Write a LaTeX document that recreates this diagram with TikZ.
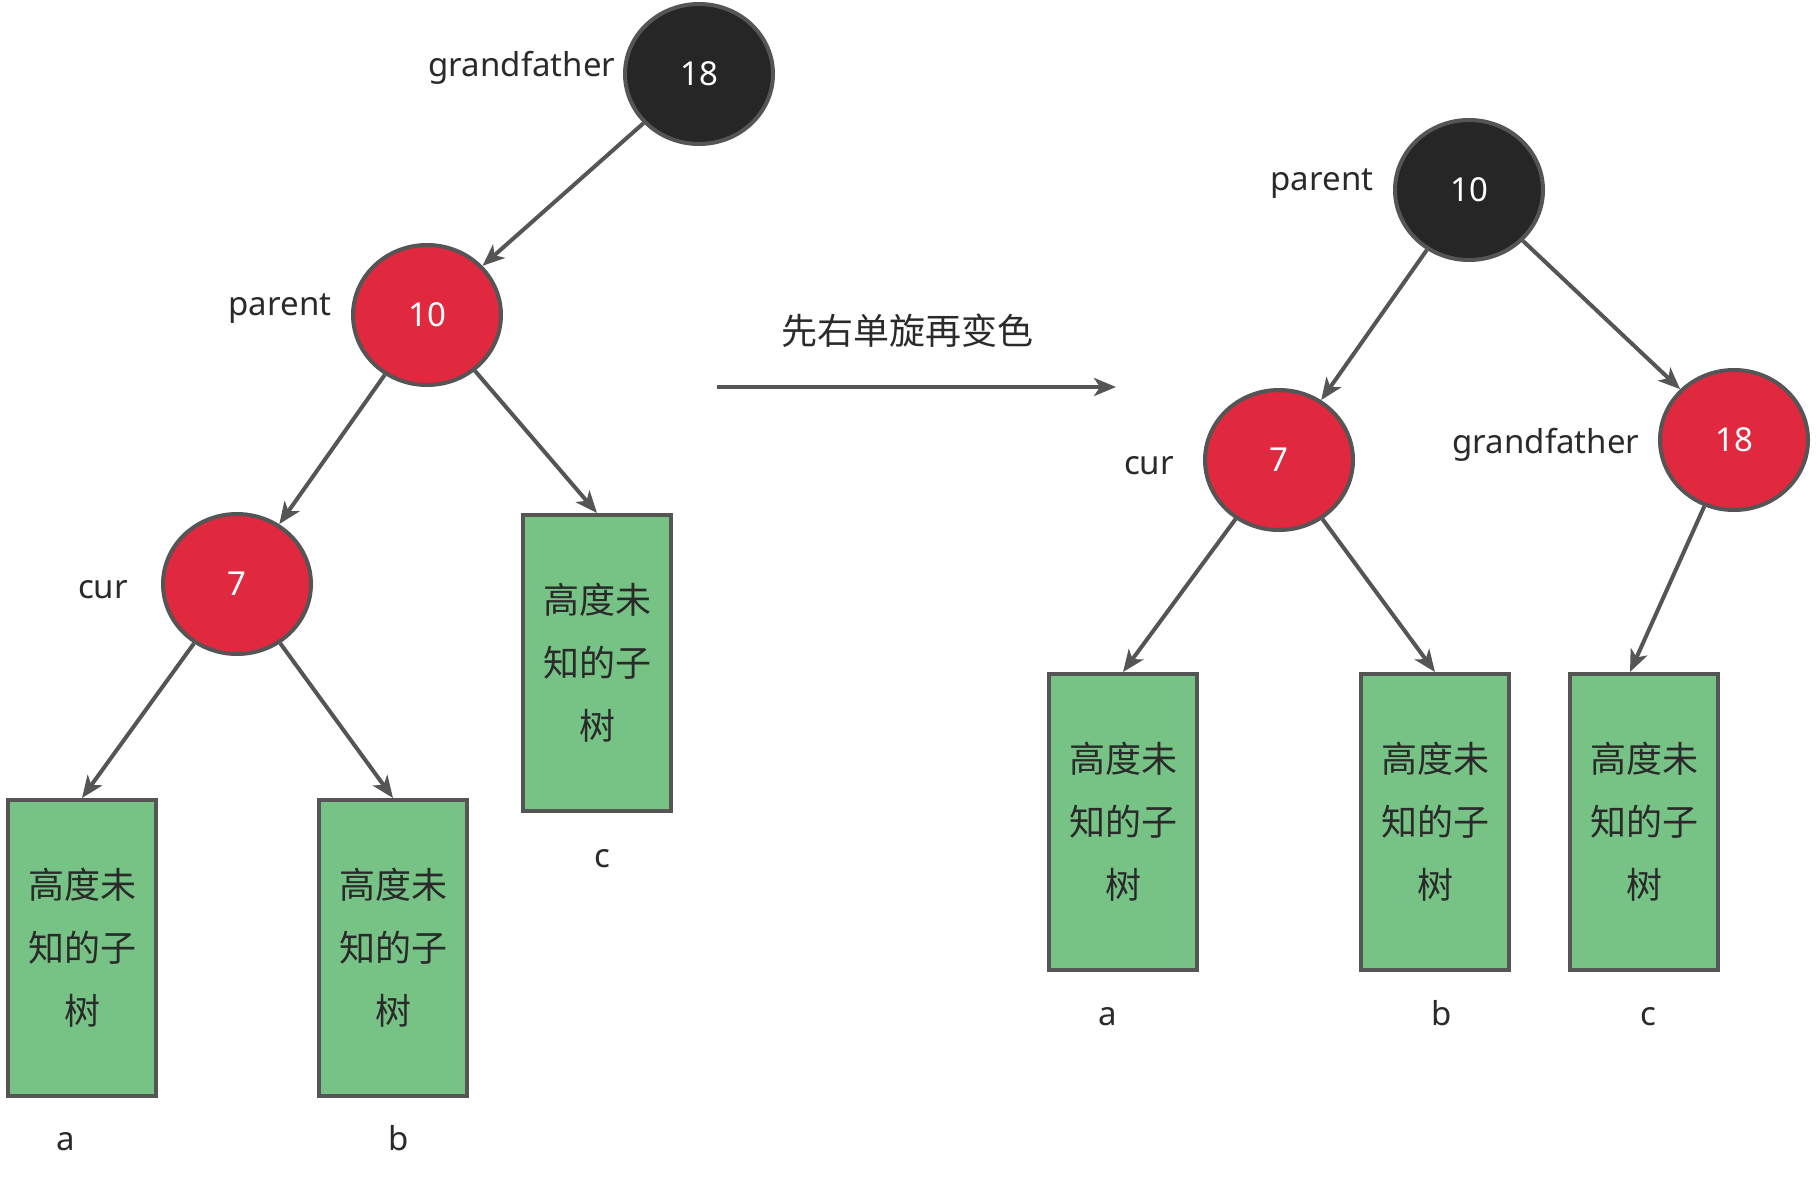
\documentclass[tikz,border=0pt]{standalone}
\usepackage{fontspec}
\setmainfont{Noto Sans}
\newfontfamily\cjk{Noto Sans CJK SC}
\usetikzlibrary{shapes.geometric,arrows.meta}
\definecolor{lineC}{HTML}{555555}
\definecolor{blackF}{HTML}{262626}
\definecolor{redF}{HTML}{E0283E}
\definecolor{greenF}{HTML}{77C386}
\definecolor{txtC}{HTML}{2A2A2A}
\tikzset{
  rbnode/.style={ellipse, draw=lineC, line width=4pt, minimum width=148pt, minimum height=140pt, inner sep=0pt, text=white, font=\fontsize{33}{40}\selectfont},
  blk/.style={rbnode, fill=blackF},
  red/.style={rbnode, fill=redF},
  subtree/.style={rectangle, draw=lineC, line width=4pt, fill=greenF, minimum width=148pt, minimum height=296pt, inner sep=0pt, align=center, text=txtC, font=\cjk\fontsize{36}{63}\selectfont},
  lbl/.style={text=txtC, font=\fontsize{33}{40}\selectfont, inner sep=0pt},
  letter/.style={lbl, anchor=base},
  conn/.style={draw=lineC, line width=4pt, -{Stealth[length=22pt,width=18pt,inset=6pt]}}
}
\begin{document}
\begin{tikzpicture}[x=1pt,y=-1pt]
\useasboundingbox (0,0) rectangle (1820,1181);
% left tree
\node[blk] (L18) at (699,74) {18};
\node[red] (L10) at (427,315) {10};
\node[red] (L7) at (237,584) {7};
\node[subtree] (La) at (82,948) {高度未\\知的子\\树};
\node[subtree] (Lb) at (393,948) {高度未\\知的子\\树};
\node[subtree] (Lc) at (597,663) {高度未\\知的子\\树};
\node[lbl] (Lgf) at (522,68) {grandfather};
\node[lbl] (Lpar) at (280,309) {parent};
\node[lbl] (Lcur) at (103,590) {cur};
\node[letter] (Lla) at (66,1150) {a};
\node[letter] (Llb) at (399,1150) {b};
\node[letter] (Llc) at (602,867) {c};
\draw[conn] (L18) -- (L10);
\draw[conn] (L10) -- (L7);
\draw[conn] (L10) -- (Lc.north);
\draw[conn] (L7) -- (La.north);
\draw[conn] (L7) -- (Lb.north);
% middle arrow
\coordinate (ms) at (717,387);
\coordinate (me) at (1116,387);
\draw[conn] (ms) -- (me);
\node[lbl, font=\cjk\fontsize{36}{40}\selectfont] (title) at (907,331) {先右单旋再变色};
% right tree
\node[blk] (R10) at (1469,190) {10};
\node[red] (R7) at (1279,460) {7};
\node[red] (R18) at (1734,440) {18};
\node[subtree] (Ra) at (1123,822) {高度未\\知的子\\树};
\node[subtree] (Rb) at (1435,822) {高度未\\知的子\\树};
\node[subtree] (Rc) at (1644,822) {高度未\\知的子\\树};
\node[lbl] (Rpar) at (1322,184) {parent};
\node[lbl] (Rcur) at (1149,466) {cur};
\node[lbl] (Rgf) at (1546,445) {grandfather};
\node[letter] (Rla) at (1108,1025) {a};
\node[letter] (Rlb) at (1442,1025) {b};
\node[letter] (Rlc) at (1648,1025) {c};
\draw[conn] (R10) -- (R7);
\draw[conn] (R10) -- (R18);
\draw[conn] (R7) -- (Ra.north);
\draw[conn] (R7) -- (Rb.north);
\draw[conn] (R18) -- ([xshift=-14pt]Rc.north);
\end{tikzpicture}
\end{document}
